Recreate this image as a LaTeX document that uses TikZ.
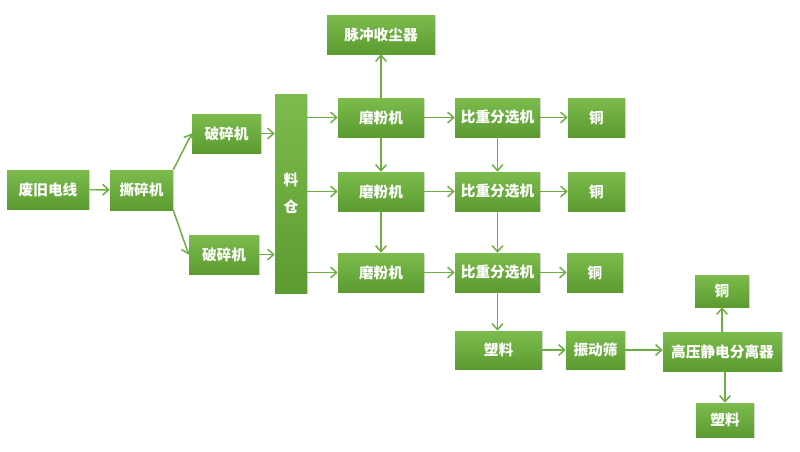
\documentclass[tikz,border=0pt]{standalone}
\usepackage{fontspec}
\newfontfamily\cjk{Noto Sans CJK SC}
\usetikzlibrary{arrows.meta,shadows}
\definecolor{gtop}{HTML}{7CBB4C}
\definecolor{gbot}{HTML}{5C9B30}
\definecolor{gline}{HTML}{6DAE41}
\begin{document}
\begin{tikzpicture}[x=0.75pt,y=-0.75pt,
  box/.style={rectangle,inner sep=0pt,top color=gtop,bottom color=gbot,
    draw=none,text=white,font=\cjk\bfseries\fontsize{11pt}{13pt}\selectfont,
    drop shadow={opacity=0.25,shadow xshift=0.8pt,shadow yshift=-0.8pt}},
  arr/.style={draw=gline,line width=1.1pt,-{Straight Barb[length=4.5pt,width=8pt,line width=1.1pt]}}]
\useasboundingbox (0,0) rectangle (800,451);
\fill[white] (0,0) rectangle (800,451);
\newcommand\bx[6]{\node[box,minimum width=#4*0.75pt,minimum height=#5*0.75pt] (#1) at (#2,#3) {#6};}
\bx{a}{48}{189.5}{82}{39}{废旧电线}
\bx{b}{141.5}{190}{63}{40}{撕碎机}
\bx{c1}{226.5}{133.5}{69}{39}{破碎机}
\bx{c2}{224}{254.5}{70}{39}{破碎机}
\node[box,minimum width=32*0.75pt,minimum height=199*0.75pt,align=center] (d) at (291,193.5) {料\\[7pt]仓};
\bx{e}{381}{34.5}{108}{39}{脉冲收尘器}
\bx{m1}{381}{117.5}{86}{39}{磨粉机}
\bx{m2}{381}{191.5}{86}{39}{磨粉机}
\bx{m3}{381}{272.5}{86}{39}{磨粉机}
\bx{s1}{497.5}{117.5}{85}{39}{比重分选机}
\bx{s2}{497.5}{191.5}{85}{39}{比重分选机}
\bx{s3}{497.5}{272.5}{85}{39}{比重分选机}
\bx{t1}{596.5}{117.5}{57}{39}{铜}
\bx{t2}{596.5}{191.5}{57}{39}{铜}
\bx{t3}{595}{272.5}{56}{39}{铜}
\bx{p}{498.5}{350}{87}{38}{塑料}
\bx{v}{595.5}{350}{59}{38}{振动筛}
\bx{h}{722.5}{351.5}{119}{39}{高压静电分离器}
\bx{t4}{722}{291}{54}{32}{铜}
\bx{p2}{725}{420}{58}{34}{塑料}
\draw[arr] (a) -- (b);
\draw[arr] (b.north east) -- (c1.west);
\draw[arr] (b.south east) -- (c2.west);
\draw[arr] (c1.east) -- (c1.east -| d.west);
\draw[arr] (c2.east) -- (c2.east -| d.west);
\draw[arr] (m1.west -| d.east) -- (m1.west);
\draw[arr] (m2.west -| d.east) -- (m2.west);
\draw[arr] (m3.west -| d.east) -- (m3.west);
\draw[arr] (m1) -- (e);
\draw[arr] (m1) -- (m2);
\draw[arr] (m2) -- (m3);
\draw[arr] (m1) -- (s1);
\draw[arr] (m2) -- (s2);
\draw[arr] (m3) -- (s3);
\draw[arr] (s1) -- (s2);
\draw[arr] (s2) -- (s3);
\draw[arr] (s1) -- (t1);
\draw[arr] (s2) -- (t2);
\draw[arr] (s3) -- (t3);
\draw[arr] (s3.south) -- (s3.south |- p.north);
\draw[arr] (p) -- (v);
\draw[arr] (v.east) -- (v.east -| h.west);
\draw[arr] (h.north -| t4) -- (t4.south);
\draw[arr] (h.south -| p2) -- (p2.north);
\end{tikzpicture}
\end{document}
